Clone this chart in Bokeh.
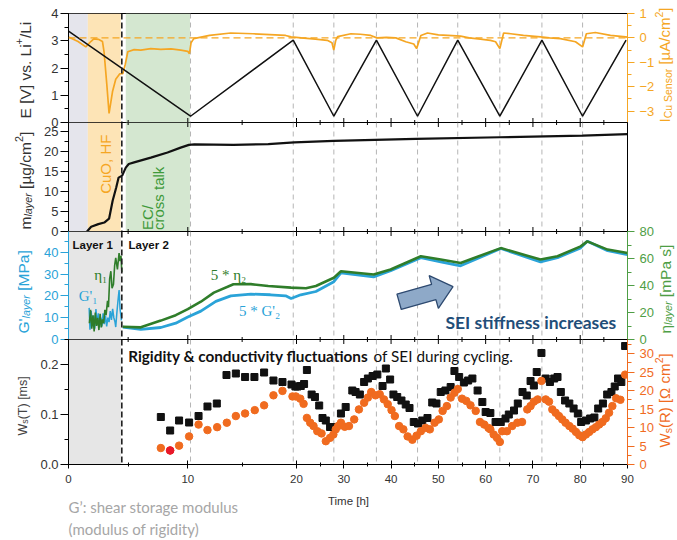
import math
import numpy as np
from bokeh.plotting import figure
from bokeh.layouts import column
from bokeh.models import (Range1d, LinearAxis, FixedTicker, SingleIntervalTicker,
                          BoxAnnotation, Span, Label, PrintfTickFormatter)
from bokeh.embed import file_html
from bokeh.resources import INLINE

# ---------------- data (time in hours) ----------------
E_t = [0.0, 10.25, 19.7, 27.9, 36.9, 45.6, 54.1, 63.0, 71.9, 80.5, 89.7]
E_v = [3.35, 0.23, 3.02, 0.23, 3.02, 0.23, 3.02, 0.23, 3.02, 0.23, 3.02]

I_t = [0.0, 0.8, 1.45, 1.87, 2.12, 2.5, 2.85, 2.98, 3.21, 3.40,
       3.69, 3.96, 4.30, 4.55, 4.75, 4.97, 5.5, 6.06, 6.9, 7.74,
       8.6, 9.41, 10.0, 10.15, 10.3, 10.55, 12.0, 13.95, 16.0, 19.0,
       19.5, 21.0, 24.0, 26.5, 27.5, 27.88, 28.3, 28.7, 31.5, 33.5,
       35.7, 37.0, 39.0, 41.0, 43.1, 44.8, 45.4, 46.3, 47.7, 50.0,
       52.0, 54.7, 56.5, 58.9, 61.0, 62.1, 63.0, 63.8, 65.3, 68.0,
       71.6, 73.5, 75.8, 79.0, 80.5, 81.3, 83.2, 86.4, 89.6, 90.0]
I_v = [0.04, -0.15, -0.37, -0.15, -0.04, -0.06, -0.15, -0.57, -1.9, -3.1,
       -2.2, -1.7, -1.47, -1.47, -1.1, -0.57, -0.48, -0.5, -0.44, -0.47,
       -0.45, -0.5, -0.55, -0.65, -0.2, -0.03, 0.1, 0.2, 0.17, 0.1,
       0.04, 0.0, -0.05, -0.1, -0.2, -0.5, -0.1, 0.05, 0.17, 0.15,
       0.1, 0.0, 0.02, 0.0, -0.16, -0.25, -0.44, 0.1, 0.2, 0.12,
       0.1, 0.07, 0.0, -0.05, -0.1, -0.16, -0.44, 0.2, 0.17, 0.1,
       0.04, 0.0, -0.03, -0.16, -0.37, 0.17, 0.22, 0.1, 0.04, 0.03]

m_t = [1.55, 1.9, 2.5, 3.0, 3.4, 3.7, 4.0, 4.2, 4.5, 4.8,
       5.05, 5.5, 6.9, 8.3, 9.4, 10.1, 10.6, 14.2, 17.4, 19.8,
       27.9, 45.2, 63.0, 80.5, 90.0]
m_v = [0.0, 1.2, 1.85, 2.25, 3.2, 7.7, 11.0, 13.5, 14.0, 16.0,
       16.9, 17.3, 18.5, 19.8, 21.0, 21.7, 21.8, 21.7, 21.9, 22.3,
       22.7, 23.2, 23.6, 24.0, 24.4]

G1_t = [1.73, 1.8, 1.9, 2.0, 2.1, 2.2, 2.3, 2.4, 2.5, 2.6,
        2.7, 2.8, 2.9, 3.0, 3.1, 3.2, 3.3, 3.4, 3.5, 3.6,
        3.7, 3.8, 3.9, 3.96, 4.05, 4.15, 4.24, 4.32, 4.44]
G1_v = [14.5, 4.5, 13.0, 6.0, 11.0, 5.0, 14.0, 7.0, 12.0, 5.5,
        10.0, 6.0, 12.0, 7.0, 11.0, 6.0, 10.0, 8.0, 13.0, 9.0,
        14.0, 10.0, 8.0, 5.7, 12.0, 18.0, 22.7, 14.0, 8.8]
N1_t = [1.75, 1.85, 1.95, 2.05, 2.15, 2.25, 2.35, 2.45, 2.55, 2.65,
        2.75, 2.85, 2.95, 3.05, 3.15, 3.27, 3.35, 3.45, 3.55, 3.65,
        3.77, 3.87, 3.96, 4.1, 4.24, 4.32, 4.4, 4.47]
N1_v = [12, 22, 8, 18, 6, 20, 10, 16, 7, 19,
        9, 15, 12, 22, 18, 28.6, 24, 45, 50.6, 38,
        40.9, 55, 60.4, 52, 64, 58, 62, 50]

G2_t = [4.55, 6.06, 7.74, 8.99, 10.0, 11.2, 12.58, 13.96, 15.8, 17.6,
        19.0, 19.5, 20.9, 24.1, 27.9, 29.4, 36.3, 39.9, 46.3, 50.5,
        54.7, 63.2, 71.6, 75.2, 80.1, 81.5, 85.8, 90.0]
G2_v = [5.7, 4.6, 5.5, 7.5, 10.3, 13.0, 17.5, 20.0, 20.8, 20.5,
        20.0, 18.8, 20.5, 22.0, 26.5, 30.5, 28.7, 31.5, 37.5, 35.6,
        33.8, 41.7, 35.6, 37.5, 42.0, 45.0, 40.7, 38.9]
N2_t = [4.55, 6.06, 7.74, 8.99, 10.0, 11.2, 12.4, 14.2, 15.8, 17.4,
        19.5, 22.0, 24.1, 27.9, 29.4, 36.3, 39.9, 46.3, 50.5, 54.7,
        63.2, 71.6, 75.2, 80.1, 81.5, 85.8, 90.0]
N2_v = [9.5, 9.0, 14.0, 18.0, 22.5, 28.0, 34.7, 40.9, 41.0, 39.6,
        38.4, 38.0, 39.6, 45.7, 50.6, 48.2, 51.9, 61.7, 59.2, 56.7,
        67.7, 59.2, 61.7, 69.0, 72.7, 66.6, 64.1]

WT_t = [7.74, 8.52, 9.27, 10.12, 10.99, 11.81, 12.67, 13.56, 14.42, 15.27,
        16.13, 17.02, 17.88, 18.71, 19.54, 19.9, 20.2, 20.9, 21.6, 22.2,
        23.2, 23.9, 24.8, 25.5, 26.2, 27.1, 27.9, 29.4, 30.4, 31.8,
        32.5, 33.4, 34.3, 35.1, 36.1, 37.1, 38.2, 38.9, 39.8, 40.5,
        41.3, 42.2, 43.1, 43.9, 44.8, 45.7, 46.6, 47.7, 48.7, 49.6,
        50.5, 51.5, 52.6, 53.4, 54.4, 55.4, 56.3, 57.2, 58.3, 59.3,
        60.0, 61.0, 62.1, 63.2, 64.2, 64.9, 66.0, 66.8, 67.8, 68.7,
        69.5, 70.2, 70.8, 71.8, 72.7, 73.6, 74.5, 75.2, 75.9, 76.8,
        77.7, 78.6, 79.5, 80.2, 81.2, 82.1, 83.0, 83.8, 84.8, 85.7,
        86.6, 87.3, 88.0, 88.7, 89.5]
WT_v = [0.095, 0.068, 0.088, 0.084, 0.097, 0.116, 0.122, 0.179, 0.182, 0.175,
        0.175, 0.184, 0.168, 0.165, 0.160, 0.156, 0.156, 0.157, 0.161, 0.189,
        0.140, 0.135, 0.118, 0.093, 0.088, 0.075, 0.075, 0.102, 0.115, 0.148,
        0.145, 0.140, 0.165, 0.172, 0.177, 0.180, 0.157, 0.192, 0.170, 0.140,
        0.135, 0.128, 0.120, 0.113, 0.085, 0.082, 0.088, 0.093, 0.124, 0.122,
        0.145, 0.148, 0.155, 0.187, 0.175, 0.164, 0.168, 0.172, 0.148, 0.125,
        0.105, 0.103, 0.085, 0.085, 0.092, 0.100, 0.108, 0.122, 0.145, 0.138,
        0.167, 0.158, 0.185, 0.223, 0.172, 0.165, 0.172, 0.175, 0.145, 0.128,
        0.122, 0.112, 0.102, 0.085, 0.088, 0.092, 0.094, 0.112, 0.122, 0.140,
        0.145, 0.156, 0.172, 0.165, 0.237]
WR_t = [7.74, 8.52, 9.27, 10.12, 10.99, 11.81, 12.7, 13.59, 14.42, 15.27,
        16.16, 17.02, 17.88, 18.71, 19.63, 19.94, 20.8, 21.5, 22.2, 22.9,
        23.6, 24.4, 25.3, 26.2, 27.1, 27.8, 28.3, 28.8, 29.4, 30.2,
        31.1, 32.2, 33.2, 34.3, 35.1, 35.8, 36.7, 37.6, 38.5, 39.3,
        40.1, 40.8, 41.7, 42.6, 43.5, 44.5, 45.4, 46.3, 47.3, 48.2,
        49.2, 50.1, 50.9, 51.8, 52.6, 53.4, 54.1, 55.0, 55.9, 56.8,
        57.9, 58.8, 59.7, 60.6, 61.0, 61.7, 62.4, 63.0, 63.5, 64.5,
        65.6, 66.7, 67.7, 68.8, 69.5, 70.2, 71.0, 71.8, 72.7, 73.4,
        74.1, 74.8, 75.5, 76.2, 76.9, 77.7, 78.4, 79.1, 79.8, 80.5,
        81.2, 81.9, 82.6, 83.3, 84.0, 84.7, 85.4, 86.1, 86.8, 87.6,
        88.5, 89.5]
WR_v = [4.45, 3.8, 5.1, 7.6, 10.8, 9.3, 10.1, 11.3, 13.1, 13.8,
        14.7, 16.0, 18.7, 19.9, 18.4, 18.4, 17.8, 16.4, 12.6, 11.3,
        10.4, 9.0, 8.4, 6.3, 7.2, 8.1, 9.5, 10.4, 11.3, 10.2,
        10.4, 12.2, 14.9, 16.7, 18.1, 19.6, 18.7, 19.0, 17.6, 16.3,
        14.7, 13.1, 10.4, 9.5, 7.6, 6.7, 7.8, 9.0, 9.9, 9.5,
        11.3, 12.2, 14.5, 15.8, 18.1, 19.4, 20.4, 17.8, 17.2, 16.0,
        14.5, 11.5, 10.8, 9.9, 9.5, 8.1, 7.2, 6.1, 9.0, 9.0,
        10.4, 11.3, 11.5, 14.9, 15.8, 17.0, 17.6, 22.6, 17.6, 17.0,
        14.9, 14.0, 13.1, 12.2, 11.3, 10.4, 9.7, 8.8, 7.9, 7.4,
        8.1, 8.8, 9.5, 10.1, 10.8, 11.5, 12.5, 14.0, 15.8, 17.9,
        17.5, 24.3]
WR_RED = 1  # index of the highlighted (red) point

MAJOR_H = [0, 10, 20, 30, 40, 50, 60, 70, 80, 90]
MINOR_H = [5, 15, 25, 35, 45, 55, 65, 75, 85]
TURN_H = [10.25, 19.7, 27.9, 36.9, 45.6, 54.1, 63.0, 71.9, 80.5]
LAYER_H = 4.47
BG_H = (0.0, 1.62)
CUO_H = (1.62, 4.38)
EC_H = (4.8, 10.2)
L1_H = (0.0, 4.4)

# ---------------- layout constants ----------------
FW = 559
BL, BR = 68, 46
TOTAL_W = BL + FW + BR
PAGE_W = 677
H1, H2, H3, H4 = 109, 109, 108, 125
TOP = 13
OV = 7
B4 = 40
F1 = TOP
F2 = F1 + H1
F3 = F2 + H2
F4 = F3 + H3
F4B = F4 + H4
MAIN_H = F4B + B4
PAGE_H = 540
T_BREAK = [0, 10, 20, 90]
U_BREAK = [0, 119.3, 228, FW]


def u(t):
    return np.round(np.interp(t, T_BREAK, U_BREAK), 3)


BLACK = "#111111"
ORANGE = "#f5a623"
BLUE = "#2aa3d8"
GREEN = "#2f7d2a"
GREEN_AX = "#4e9e45"
ORANGE2 = "#f06b1f"
RED = "#e8172b"
TICK_FONT = "Liberation Sans"
CAL = "Lato"

AW = {' ': 278, "'": 191, '(': 333, ')': 333, '+': 584, '.': 278, '/': 278,
      '[': 278, ']': 278, 'A': 667, 'C': 722, 'E': 667, 'G': 778, 'I': 278,
      'L': 556, 'M': 833, 'P': 667, 'R': 722, 'S': 667, 'T': 611, 'V': 667,
      'W': 944, 'a': 556, 'c': 500, 'e': 556, 'g': 556, 'k': 500, 'l': 222,
      'm': 833, 'n': 556, 'o': 556, 'r': 333, 's': 500, 'u': 556, 'v': 500,
      'y': 500, 'µ': 576, 'η': 556, 'Ω': 768, 'i': 222, 't': 278}


def tw(s, fs):
    return sum(AW.get(c, 556) for c in s) * fs / 1000.0


def base_fig(h, yr, top, bottom, shift):
    p = figure(frame_width=FW, frame_height=h, x_range=Range1d(0, FW),
               y_range=Range1d(*yr), x_axis_location=None, y_axis_location=None,
               toolbar_location=None, output_backend="svg",
               min_border_left=BL, min_border_right=BR,
               min_border_top=top, min_border_bottom=bottom)
    p.grid.visible = False
    p.outline_line_color = "black"
    p.outline_line_width = 1
    p.border_fill_alpha = 0
    p.background_fill_color = "white"
    if shift:
        p.margin = (-shift, 0, 0, 0)
    return p


def inner_ticks(p, h, where):
    """Short time ticks pointing into the frame at a shared panel edge."""
    y0, y1 = p.y_range.start, p.y_range.end
    ppu = h / (y1 - y0)
    for hours, ln in ((MAJOR_H, 4.5), (MINOR_H, 2.5)):
        xs = u(hours)
        if where == "bottom":
            ya, yb = y0, y0 + ln / ppu
        else:
            ya, yb = y1, y1 - ln / ppu
        p.segment(x0=xs, y0=[ya] * len(xs), x1=xs, y1=[yb] * len(xs),
                  line_color="black", line_width=1)


def y_axis(p, side, ticker, color, lcolor, rng=None, fmt=None):
    kw = {"y_range_name": rng} if rng else {}
    ax = LinearAxis(ticker=ticker, **kw)
    ax.axis_line_color = color
    ax.major_tick_line_color = color
    ax.minor_tick_line_color = color
    ax.major_tick_in = 0
    ax.minor_tick_in = 0
    if side == "left":
        ax.major_tick_out, ax.minor_tick_out, ax.major_label_standoff = 8, 4, 2
    else:
        ax.major_tick_out, ax.minor_tick_out, ax.major_label_standoff = 7, 4, 5
    ax.major_label_text_font = TICK_FONT
    ax.major_label_text_font_size = "13px"
    ax.major_label_text_color = lcolor
    if fmt is not None:
        ax.formatter = fmt
    p.add_layout(ax, side)


def bands(p, items):
    for (a, b), col in items:
        p.add_layout(BoxAnnotation(left=float(u(a)), right=float(u(b)), fill_color=col,
                                   fill_alpha=1, line_alpha=0, level="underlay"))


def vlines(p):
    for t in TURN_H:
        p.add_layout(Span(location=float(u(t)), dimension="height", line_color="#b5b5b5",
                          line_dash="5 4", line_width=1, level="underlay"))
    p.add_layout(Span(location=float(u(LAYER_H)), dimension="height", line_color="#222222",
                      line_dash="6 3", line_width=1.6))


# ---------------- panel 1: E and Cu sensor current ----------------
p1 = base_fig(H1, (0, 4), TOP, OV, 0)
p1.extra_y_ranges = {"cu": Range1d(-3.47, 1)}
bands(p1, [(BG_H, "#e5e5ec"), (CUO_H, "#fde4b6"), (EC_H, "#d4e7d0")])
vlines(p1)
p1.add_layout(Span(location=0, dimension="width", y_range_name="cu", line_color=ORANGE,
                   line_dash="7 4", line_width=1.3))
p1.line(u(I_t), I_v, y_range_name="cu", line_color=ORANGE, line_width=1.7)
p1.line(u(E_t), E_v, line_color=BLACK, line_width=1.5)
y_axis(p1, "left", SingleIntervalTicker(interval=1, num_minor_ticks=2), "black", "#333333")
y_axis(p1, "right", SingleIntervalTicker(interval=1, num_minor_ticks=2), ORANGE, ORANGE, rng="cu")
inner_ticks(p1, H1, "bottom")

# ---------------- panel 2: layer mass ----------------
p2 = base_fig(H2, (0, 27.3), OV, OV, 2 * OV)
bands(p2, [(BG_H, "#e5e5ec"), (CUO_H, "#fde4b6"), (EC_H, "#d4e7d0")])
vlines(p2)
p2.line(u(m_t), m_v, line_color=BLACK, line_width=2.2)
y_axis(p2, "left", SingleIntervalTicker(interval=5, num_minor_ticks=2), "black", "#333333")
inner_ticks(p2, H2, "bottom")
inner_ticks(p2, H2, "top")
ppu2 = H2 / 27.3
p2.add_layout(Label(x=float(u(3.06)), y=37.7 / ppu2, text="CuO, HF", angle=math.pi / 2,
                    text_font=TICK_FONT, text_font_size="15px", text_color=ORANGE,
                    text_align="left", text_baseline="middle"))
p2.add_layout(Label(x=float(u(6.62)), y=1.5 / ppu2, text="EC/", angle=math.pi / 2,
                    text_font=TICK_FONT, text_font_size="15px", text_color="#3f9a3a",
                    text_align="left", text_baseline="middle"))
p2.add_layout(Label(x=float(u(7.55)), y=1.5 / ppu2, text="cross talk", angle=math.pi / 2,
                    text_font=TICK_FONT, text_font_size="15px", text_color="#3f9a3a",
                    text_align="left", text_baseline="middle"))

# ---------------- panel 3: viscoelastic properties ----------------
G_TOP = 49.5
p3 = base_fig(H3, (0, G_TOP), OV, OV, 2 * OV)
p3.extra_y_ranges = {"eta": Range1d(0, 80)}
bands(p3, [(L1_H, "#e6e6e6")])
vlines(p3)
p3.line(u(G1_t), G1_v, line_color=BLUE, line_width=1.5)
p3.line(u(N1_t), N1_v, y_range_name="eta", line_color=GREEN, line_width=1.6)
p3.line(u(G2_t), G2_v, line_color=BLUE, line_width=2.8)
p3.line(u(N2_t), N2_v, y_range_name="eta", line_color=GREEN, line_width=2.6)
y_axis(p3, "left", FixedTicker(ticks=[0, 10, 20, 30, 40], minor_ticks=[5, 15, 25, 35, 45]),
       BLUE, BLUE)
y_axis(p3, "right", SingleIntervalTicker(interval=20, num_minor_ticks=2), GREEN_AX, GREEN_AX,
       rng="eta")
inner_ticks(p3, H3, "bottom")
inner_ticks(p3, H3, "top")
ppu3 = H3 / G_TOP
for txt, x, y in [("Layer 1", 4, 95), ("Layer 2", 60, 95)]:
    p3.add_layout(Label(x=x, y=y / ppu3, text=txt, text_font=TICK_FONT, text_font_size="11.5px",
                        text_font_style="bold", text_color="#111111", text_baseline="middle"))
for txt, t, ypx, col in [("η₁", 2.15, 65, GREEN), ("G'₁", 0.85, 44, BLUE),
                         ("5 * η₂", 12.1, 65, GREEN), ("5 * G'₂", 14.7, 29, BLUE)]:
    p3.add_layout(Label(x=float(u(t)), y=ypx / ppu3, text=txt, text_font="Liberation Serif",
                        text_font_size="15px", text_color=col, text_baseline="middle"))
p3.add_layout(Label(x=float(u(51.5)), y=17.3 / ppu3, text="SEI stiffness increases",
                    text_font=CAL, text_font_size="17.5px", text_font_style="bold",
                    text_color="#1f4e79", text_baseline="middle"))
A_TAIL_H, A_TAIL_G = 41.7, 17.3
A_ANG, A_LEN, A_SW, A_HW, A_HL = math.radians(15.7), 56, 8, 17, 20
tx, ty = float(u(A_TAIL_H)), A_TAIL_G * ppu3
dx, dy = math.cos(A_ANG), math.sin(A_ANG)
nx, ny = -dy, dx
pts = [(0, A_SW), (A_LEN - A_HL, A_SW), (A_LEN - A_HL, A_HW), (A_LEN, 0),
       (A_LEN - A_HL, -A_HW), (A_LEN - A_HL, -A_SW), (0, -A_SW)]
ax_ = [tx + a * dx + b * nx for a, b in pts]
ay_ = [(ty + a * dy + b * ny) / ppu3 for a, b in pts]
p3.patch(ax_, ay_, fill_color="#8ea9c8", line_color="#2e4a70", line_width=1.3)

# ---------------- panel 4: Warburg elements ----------------
p4 = base_fig(H4, (0, 0.25), OV, B4, 2 * OV)
p4.extra_y_ranges = {"wr": Range1d(0, 33.8)}
bands(p4, [(L1_H, "#e6e6e6")])
vlines(p4)
p4.scatter(u(WT_t), WT_v, marker="square", size=7, fill_color=BLACK, line_color=BLACK)
wr_x = u(WR_t)
p4.scatter(wr_x, WR_v, y_range_name="wr", marker="circle", size=7.5,
           fill_color=ORANGE2, line_color=ORANGE2)
p4.scatter([wr_x[WR_RED]], [WR_v[WR_RED]], y_range_name="wr", marker="circle", size=7.5,
           fill_color=RED, line_color=RED)
y_axis(p4, "left", SingleIntervalTicker(interval=0.1, num_minor_ticks=2), "black", "#333333",
       fmt=PrintfTickFormatter(format="%.1f"))
y_axis(p4, "right", SingleIntervalTicker(interval=5, num_minor_ticks=2), ORANGE2, ORANGE2,
       rng="wr")
inner_ticks(p4, H4, "top")
xa = LinearAxis(ticker=FixedTicker(ticks=list(u(MAJOR_H)), minor_ticks=list(u(MINOR_H))))
xa.major_tick_in, xa.major_tick_out, xa.minor_tick_in, xa.minor_tick_out = 4, 4, 2, 2
xa.major_label_overrides = {float(k): str(h) for k, h in zip(u(MAJOR_H), MAJOR_H)}
xa.major_label_text_font = TICK_FONT
xa.major_label_text_font_size = "11.5px"
xa.major_label_text_color = "#333333"
xa.major_label_standoff = 6
p4.add_layout(xa, "below")
ppu4 = H4 / 0.25
p4.add_layout(Label(x=float(u(5.0)), y=109 / ppu4, text="Rigidity & conductivity fluctuations",
                    text_font=CAL, text_font_size="15.3px", text_font_style="bold",
                    text_color="#111111", text_baseline="middle"))
p4.add_layout(Label(x=float(u(36.3)), y=109 / ppu4, text="of SEI during cycling.",
                    text_font=CAL, text_font_size="15.3px", text_color="#111111",
                    text_baseline="middle"))

# ---------------- overlay for texts outside the frames (page pixels) ----------------
ov = figure(frame_width=PAGE_W, frame_height=PAGE_H, x_range=Range1d(0, PAGE_W),
            y_range=Range1d(PAGE_H, 0), x_axis_location=None, y_axis_location=None,
            toolbar_location=None, output_backend="svg",
            min_border_left=0, min_border_right=0, min_border_top=0, min_border_bottom=0)
ov.grid.visible = False
ov.outline_line_color = None
ov.background_fill_alpha = 0
ov.border_fill_alpha = 0
ov.margin = (-MAIN_H, 0, 0, 0)


def vtitle(x_center, y_bottom, pieces, size, color):
    """Rotated axis title (reads bottom -> top) built from normal/sub/superscript pieces."""
    xb = x_center + 0.36 * size
    pos = y_bottom
    for txt, kind, ital in pieces:
        fs = size if kind == "n" else round(size * 0.7, 1)
        shift = {"n": 0.0, "sub": 0.22 * size, "sup": -0.42 * size}[kind]
        lead = len(txt) - len(txt.lstrip(" "))
        pos -= tw(" " * lead, fs)
        body = txt.strip(" ")
        ov.add_layout(Label(x=xb + shift, y=pos, text=body, angle=math.pi / 2,
                            text_font=TICK_FONT, text_font_size=f"{fs}px", text_color=color,
                            text_font_style="italic" if ital else "normal",
                            text_align="left", text_baseline="alphabetic"))
        pos -= tw(body, fs)


vtitle(19, F2 - 4, [("E [V] vs. Li", "n", False), ("+", "sup", False), ("/Li", "n", False)],
       15.5, "#333333")
vtitle(19, F3 - 2, [("m", "n", False), ("layer", "sub", True), (" [µg/cm", "n", False),
                    ("2", "sup", False), ("]", "n", False)], 15.5, "#333333")
vtitle(17, F4 - 6, [("G'", "n", False), ("layer", "sub", True), (" [MPa]", "n", False)],
       15.5, BLUE)
vtitle(17.5, F4B - 29, [("W", "n", False), ("s", "sub", False), ("(T) [ms]", "n", False)],
       12.5, "#444444")
vtitle(659, F2, [("I", "n", False), ("Cu Sensor", "sub", False), (" [µA/cm", "n", False),
                 ("2", "sup", False), ("]", "n", False)], 15, ORANGE)
vtitle(659, F4 - 6, [("η", "n", False), ("layer", "sub", True), (" [mPa s]", "n", False)],
       15.5, GREEN_AX)
vtitle(659, F4B - 17, [("W", "n", False), ("s", "sub", False), ("(R) [Ω cm", "n", False),
                       ("2", "sup", False), ("]", "n", False)], 15, ORANGE2)
ov.add_layout(Label(x=BL + float(u(31.0)), y=F4B + 36, text="Time [h]", text_font=TICK_FONT,
                    text_font_size="11.5px", text_color="#333333", text_align="center",
                    text_baseline="middle"))
ov.add_layout(Label(x=BL, y=F4B + 42, text="G’: shear storage modulus", text_font=CAL,
                    text_font_size="15px", text_color="#a6a6a6", text_baseline="middle"))
ov.add_layout(Label(x=BL, y=F4B + 64, text="(modulus of rigidity)", text_font=CAL,
                    text_font_size="15px", text_color="#a6a6a6", text_baseline="middle"))

panels = column(p1, p2, p3, p4)
layout = column(panels, ov)
open("out.html", "w").write(file_html(layout, INLINE))
